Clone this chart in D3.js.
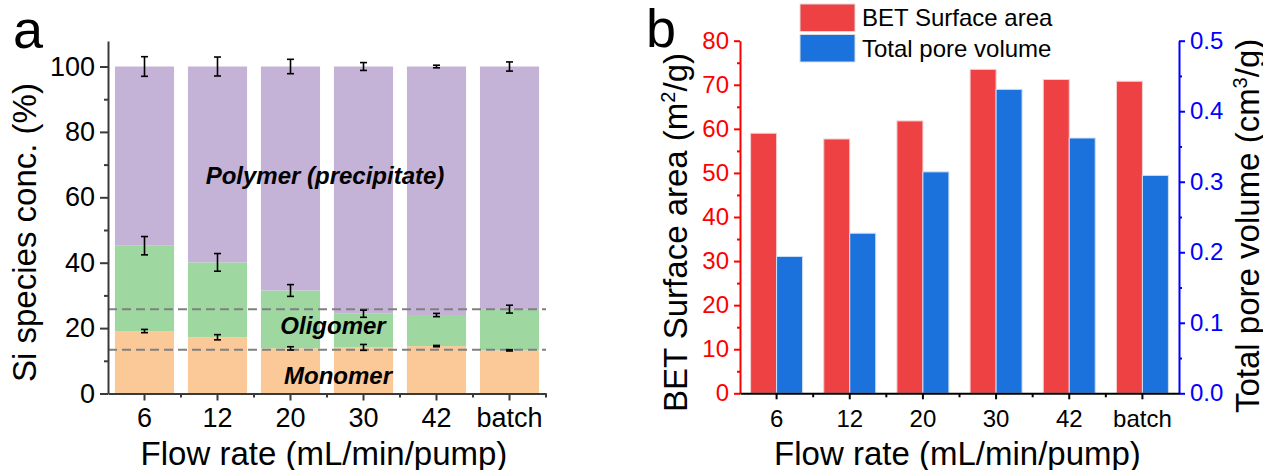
<!DOCTYPE html>
<html lang="en">
<head>
    <meta charset="UTF-8">
    <title>Si species and BET - D3.js v7</title>
    <script src="https://d3js.org/d3.v7.min.js"></script>
    <style>
        body { margin: 0; background: #fff; }
        svg { font-family: "Liberation Sans", Arial, sans-serif; }
        .lbl { font-size: 33px; fill: #000; }
        .inner { font-size: 24px; font-weight: bold; font-style: italic; fill: #000; }
    </style>
</head>
<body>
<div id="chart"></div>
<script>
    // categories and values
    const categories = ["6", "12", "20", "30", "42", "batch"];

    // panel a: stacked Si species (%)
    const monomer = [19.1, 17.2, 13.8, 14.1, 14.5, 13.2];
    const oligomer = [26.1, 22.9, 17.7, 10.3, 9.5, 12.6];
    const polymer = [54.8, 59.9, 68.5, 75.6, 76.0, 74.2];
    const monomerErr = [0.5, 0.8, 0.5, 0.9, 0.2, 0.2];
    const oligomerErr = [2.8, 2.7, 1.8, 1.1, 0.5, 1.2];
    const polymerErr = [3.0, 2.9, 2.2, 1.2, 0.4, 1.4];
    const refLines = [25.8, 13.4];
    const yTicksA = [0, 20, 40, 60, 80, 100];

    // panel b: BET surface area and pore volume
    const bet = [59.0, 57.7, 61.8, 73.5, 71.2, 70.8];
    const pore = [0.194, 0.227, 0.314, 0.431, 0.362, 0.309];
    const yTicksBet = [0, 10, 20, 30, 40, 50, 60, 70, 80];
    const yTicksPore = [0, 0.1, 0.2, 0.3, 0.4, 0.5];

    const W = 1263, H = 470;
    const svg = d3.select("#chart").append("svg")
        .attr("width", W).attr("height", H);

    // ---------------- panel a ----------------
    const a = { left: 108, right: 546, top: 41, bottom: 393.5 };
    const xA = d3.scaleBand().domain(categories).range([a.left, a.right])
        .paddingInner(0.19).paddingOuter(0.095);
    const yA = d3.scaleLinear().domain([0, 107.8]).range([a.bottom, a.top]);

    const rows = categories.map((c, i) => ({
        cat: c, monomer: monomer[i], oligomer: oligomer[i], polymer: polymer[i]
    }));
    const keys = ["monomer", "oligomer", "polymer"];
    const colorA = { monomer: "#FBC998", oligomer: "#9FD7A0", polymer: "#C4B2D7" };
    const stacked = d3.stack().keys(keys)(rows);

    const gA = svg.append("g");
    gA.selectAll("g.layer").data(stacked).join("g")
        .attr("fill", d => colorA[d.key])
        .selectAll("rect").data(d => d).join("rect")
        .attr("x", d => xA(d.data.cat))
        .attr("width", xA.bandwidth())
        .attr("y", d => yA(d[1]))
        .attr("height", d => yA(d[0]) - yA(d[1]));

    // dashed reference lines
    gA.selectAll("line.ref").data(refLines).join("line")
        .attr("x1", a.left).attr("x2", a.right)
        .attr("y1", d => yA(d)).attr("y2", d => yA(d))
        .attr("stroke", "#808080").attr("stroke-width", 2)
        .attr("stroke-dasharray", "9,5");

    // error bars at the top of each segment
    const errs = { monomer: monomerErr, oligomer: oligomerErr, polymer: polymerErr };
    stacked.forEach(layer => {
        layer.forEach((d, i) => {
            const cx = xA(d.data.cat) + xA.bandwidth() / 2;
            const e = errs[layer.key][i];
            const y1 = yA(d[1] + e), y2 = yA(d[1] - e);
            const g = gA.append("g").attr("stroke", "#000").attr("stroke-width", 1.6);
            g.append("line").attr("x1", cx).attr("x2", cx).attr("y1", y1).attr("y2", y2);
            g.append("line").attr("x1", cx - 3.5).attr("x2", cx + 3.5).attr("y1", y1).attr("y2", y1);
            g.append("line").attr("x1", cx - 3.5).attr("x2", cx + 3.5).attr("y1", y2).attr("y2", y2);
        });
    });

    // axes
    const axisA = "#3a3a3a";
    const yAxisA = gA.append("g").attr("transform", `translate(${a.left},0)`)
        .call(d3.axisLeft(yA).tickValues(yTicksA).tickSize(8).tickSizeOuter(0).tickPadding(5));
    gA.append("g").attr("transform", `translate(${a.left},0)`)
        .call(d3.axisLeft(yA).tickValues([10, 30, 50, 70, 90]).tickSize(4).tickSizeOuter(0).tickFormat(""))
        .select(".domain").remove();
    const xAxisA = gA.append("g").attr("transform", `translate(0,${a.bottom})`)
        .call(d3.axisBottom(xA).tickSize(7).tickSizeOuter(0).tickPadding(7.5));
    gA.append("g").attr("transform", `translate(0,${a.bottom})`)
        .selectAll("line").data(d3.range(1, categories.length + 1)).join("line")
        .attr("x1", i => a.left + i * xA.step()).attr("x2", i => a.left + i * xA.step())
        .attr("y1", 0).attr("y2", 4).attr("stroke", axisA).attr("stroke-width", 2);
    [yAxisA, xAxisA].forEach(ax => {
        ax.selectAll("path, line").attr("stroke", axisA).attr("stroke-width", 2);
        ax.selectAll("text").attr("font-size", 27).attr("fill", "#000")
            .attr("font-family", "Liberation Sans, Arial, sans-serif");
    });
    gA.selectAll("g g .tick line").attr("stroke", axisA).attr("stroke-width", 2);

    // in-plot labels
    gA.append("text").attr("class", "inner").attr("text-anchor", "middle")
        .attr("x", 325).attr("y", 184).text("Polymer (precipitate)");
    gA.append("text").attr("class", "inner").attr("text-anchor", "middle")
        .attr("x", 333).attr("y", 334).text("Oligomer");
    gA.append("text").attr("class", "inner").attr("text-anchor", "middle")
        .attr("x", 338).attr("y", 384).text("Monomer");

    // axis titles
    gA.append("text").attr("class", "lbl")
        .attr("transform", "translate(36,382) rotate(-90)")
        .text("Si species conc. (%)");
    gA.append("text").attr("class", "lbl").attr("text-anchor", "middle")
        .attr("x", (a.left + a.right) / 2 - 3).attr("y", 465)
        .text("Flow rate (mL/min/pump)");
    svg.append("text").attr("x", 13).attr("y", 48)
        .attr("font-size", 54).text("a");

    // ---------------- panel b ----------------
    const b = { left: 740, right: 1179, top: 40.7, bottom: 393.3 };
    const x0 = d3.scaleBand().domain(categories).range([b.left, b.right])
        .paddingInner(0.29).paddingOuter(0.145);
    const x1 = d3.scaleBand().domain(["bet", "pore"]).range([0, x0.bandwidth()]);
    const yBet = d3.scaleLinear().domain([0, 80]).range([b.bottom, b.top]);
    const yPore = d3.scaleLinear().domain([0, 0.5]).range([b.bottom, b.top]);
    const red = "#EE4144", blue = "#1C72DD";

    const gB = svg.append("g");
    gB.selectAll("rect.bet").data(bet).join("rect")
        .attr("x", (d, i) => x0(categories[i]) + x1("bet"))
        .attr("width", x1.bandwidth())
        .attr("y", d => yBet(d))
        .attr("height", d => yBet(0) - yBet(d))
        .attr("fill", red).attr("stroke", "#f4d0d0").attr("stroke-width", 1);
    gB.selectAll("rect.pore").data(pore).join("rect")
        .attr("x", (d, i) => x0(categories[i]) + x1("pore"))
        .attr("width", x1.bandwidth())
        .attr("y", d => yPore(d))
        .attr("height", d => yPore(0) - yPore(d))
        .attr("fill", blue).attr("stroke", "#cfdff5").attr("stroke-width", 1);

    const styleAxis = (ax, col, txt) => {
        ax.selectAll("path, line").attr("stroke", col).attr("stroke-width", 2);
        ax.selectAll("text").attr("font-size", 24).attr("fill", txt)
            .attr("font-family", "Liberation Sans, Arial, sans-serif");
    };

    const yAxisBet = gB.append("g").attr("transform", `translate(${b.left},0)`)
        .call(d3.axisLeft(yBet).tickValues(yTicksBet).tickSize(6).tickSizeOuter(0).tickPadding(5));
    styleAxis(yAxisBet, "#FF0000", "#FF0000");
    const yMinorBet = gB.append("g").attr("transform", `translate(${b.left},0)`)
        .call(d3.axisLeft(yBet).tickValues(d3.range(5, 80, 10)).tickSize(3).tickSizeOuter(0).tickFormat(""));
    yMinorBet.select(".domain").remove();
    styleAxis(yMinorBet, "#FF0000", "#FF0000");

    const yAxisPore = gB.append("g").attr("transform", `translate(${b.right},0)`)
        .call(d3.axisRight(yPore).tickValues(yTicksPore).tickSize(6).tickSizeOuter(0).tickPadding(5)
            .tickFormat(d3.format(".1f")));
    styleAxis(yAxisPore, "#0000FF", "#0000FF");
    const yMinorPore = gB.append("g").attr("transform", `translate(${b.right},0)`)
        .call(d3.axisRight(yPore).tickValues([0.05, 0.15, 0.25, 0.35, 0.45]).tickSize(3).tickSizeOuter(0).tickFormat(""));
    yMinorPore.select(".domain").remove();
    styleAxis(yMinorPore, "#0000FF", "#0000FF");

    const xAxisB = gB.append("g").attr("transform", `translate(0,${b.bottom})`)
        .call(d3.axisBottom(x0).tickSize(6).tickSizeOuter(0).tickPadding(11));
    styleAxis(xAxisB, "#000", "#000");
    gB.append("g").attr("transform", `translate(0,${b.bottom})`)
        .selectAll("line").data(d3.range(1, categories.length)).join("line")
        .attr("x1", i => b.left + i * x0.step()).attr("x2", i => b.left + i * x0.step())
        .attr("y1", 0).attr("y2", 4).attr("stroke", "#000").attr("stroke-width", 2);

    // legend
    const legend = [
        { name: "BET Surface area", color: red, y: 4 },
        { name: "Total pore volume", color: blue, y: 34.5 }
    ];
    const lg = gB.selectAll("g.legend").data(legend).join("g")
        .attr("transform", d => `translate(800,${d.y})`);
    lg.append("rect").attr("width", 55).attr("height", 27.5)
        .attr("fill", d => d.color).attr("stroke", "#ddd");
    lg.append("text").attr("x", 62).attr("y", 22).attr("font-size", 24)
        .text(d => d.name);

    // axis titles
    const tb = gB.append("text").attr("class", "lbl")
        .attr("transform", "translate(687,412) rotate(-90)");
    tb.append("tspan").text("BET Surface area (m");
    tb.append("tspan").attr("font-size", 20).attr("dy", -12).text("2");
    tb.append("tspan").attr("dy", 12).text("/g)");
    const tp = gB.append("text").attr("class", "lbl")
        .attr("transform", "translate(1259,413) rotate(-90)");
    tp.append("tspan").text("Total pore volume (cm");
    tp.append("tspan").attr("font-size", 20).attr("dy", -12).text("3");
    tp.append("tspan").attr("dy", 12).text("/g)");
    gB.append("text").attr("class", "lbl").attr("text-anchor", "middle")
        .attr("x", (b.left + b.right) / 2 - 2).attr("y", 465)
        .text("Flow rate (mL/min/pump)");
    svg.append("text").attr("x", 646).attr("y", 47)
        .attr("font-size", 54).text("b");
</script>
</body>
</html>
